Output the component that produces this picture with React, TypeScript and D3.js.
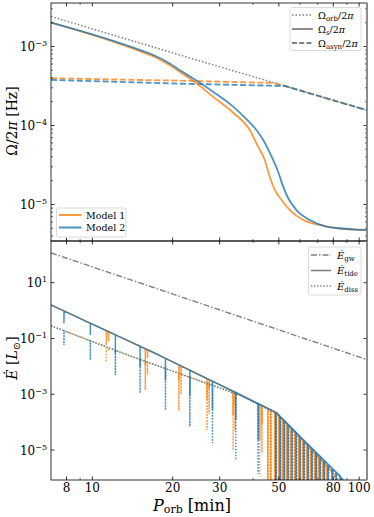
import React from "react";
import * as d3 from "d3";

// ---- data (P_orb in minutes) ----
const orbitFreq = [[7, 2.4e-3], [20, 8.3e-4], [50, 3.33e-4], [107, 1.56e-4]];

const spinModel1 = [
  [7, 2.0e-3], [13.8, 9.7e-4], [17.5, 7.1e-4], [19.5, 5.8e-4], [21.3, 4.75e-4], [23.8, 3.7e-4],
  [28.3, 2.32e-4], [33.7, 1.45e-4], [38.9, 8.77e-5], [41.8, 5.4e-5],
  [44.3, 3.66e-5], [46.2, 2.25e-5], [48.3, 1.53e-5], [51.2, 1.14e-5], [55, 8.5e-6],
  [61.7, 6.36e-6], [71.2, 5.5e-6], [82.2, 5.0e-6], [107, 4.75e-6],
];
const spinModel2 = [
  [7, 2.0e-3], [13.8, 1.0e-3], [17.5, 7.4e-4], [19.5, 6.1e-4], [21.3, 5.0e-4], [23.8, 3.95e-4],
  [28.3, 2.68e-4], [33.7, 1.73e-4], [37.8, 1.2e-4], [41.2, 8.77e-5], [43.7, 6.55e-5],
  [47.6, 3.66e-5], [49.7, 2.6e-5], [51.9, 1.68e-5], [54.2, 1.2e-5], [58.2, 8.5e-6],
  [65.3, 6.36e-6], [75.5, 5.24e-6], [95, 4.85e-6], [107, 4.75e-6],
];
const asynModel1 = [[7, 3.96e-4], [21.3, 3.69e-4], [48, 3.45e-4], [60, 2.78e-4], [80, 2.08e-4], [107, 1.56e-4]];
const asynModel2 = [[7, 3.77e-4], [21.3, 3.38e-4], [52.7, 3.16e-4], [60, 2.78e-4], [80, 2.08e-4], [107, 1.56e-4]];

const gwPower = [[7, 117], [107, 0.0174]];
const tideModel1 = [[7, 1.6], [17.1, 0.03], [35.7, 9.8e-4], [49, 2.17e-4], [61.6, 2.2e-5], [71.2, 5.0e-6], [80, 1.5e-6], [84, 6.5e-7]];
const tideModel2 = [[7, 1.6], [17.1, 0.03], [35.7, 9.8e-4], [49, 2.17e-4], [61.6, 2.4e-5], [71.2, 6.1e-6], [84.7, 1.17e-6], [88.3, 6.7e-7]];
const dissModel1 = [[7, 0.284], [13.8, 0.024], [35.7, 9.3e-4], [49, 2.1e-4], [61.6, 2.1e-5], [71.2, 4.8e-6], [80, 1.4e-6], [84, 6.3e-7]];
const dissModel2 = [[7, 0.284], [13.8, 0.024], [35.7, 9.3e-4], [49, 2.1e-4], [61.6, 2.3e-5], [71.2, 5.8e-6], [84.7, 1.1e-6], [88.3, 6.5e-7]];

// resonances: [P, tide dip, diss dip]
const dipsModel1 = [
  [11.28, 0.058, 0.0143], [11.5, 0.08, 0.035], [15.8, 0.011, 1.4e-3], [16.1, 0.02, 5e-3],
  [21.1, 3.2e-3, 2.5e-4], [21.5, 5e-3, 1e-3], [26.9, 6.3e-4, 5.2e-5], [27.4, 1.5e-3, 2e-4],
  [33.7, 1.8e-4, 1e-5], [34.3, 4e-4, 5e-5], [42.4, 2.3e-5, 1.1e-6], [43.2, 8e-5, 8e-6],
];
const dipsModel2 = [
  [7.83, 0.35, 0.058], [9.83, 0.133, 0.0169], [12.2, 0.03, 4.9e-3], [15.1, 9.5e-3, 1.1e-3],
  [18.8, 3.2e-3, 2.7e-4], [23.2, 8.7e-4, 6.8e-5], [28.2, 2.7e-4, 1.8e-5], [34.5, 1.2e-4, 4.4e-6],
  [41.8, 2.3e-5, 1.4e-6],
];
// dense resonances beyond ~45 min, reaching below the axis
const denseModel1 = [45.45, 46.6, 48.3, 50.0, 51.7, 53.6, 55.4, 57.4, 59.4, 61.5, 63.7, 65.9, 68.2, 70.6, 73.1, 75.7];
const denseModel2 = [48.7, 50.5, 52.3, 54.1, 56.0, 58.0, 60.0, 62.1, 64.3, 66.5, 68.9, 71.3, 73.8, 76.4, 79.1, 81.9, 84.8];

const periodTicks = [8, 10, 20, 30, 50, 80, 100];
const periodMinor = [9, 40, 60, 70, 90];
const freqTickExp = [-3, -4, -5];
const powerTickExp = [1, -1, -3, -5];

const ORANGE = "#ff7f0e";
const BLUE = "#1f77b4";
const GRAY = "#808080";
const FONT = "DejaVu Serif";

const x = d3.scaleLog().domain([7, 107]).range([51, 367]);
const yTop = d3.scaleLog().domain([3.45e-6, 3.55e-3]).range([241, 3]);
const yBot = d3.scaleLog().domain([8.4e-7, 313]).range([480, 241]);

const logInterp = (pts, p) => {
  for (let i = 0; i < pts.length - 1; i++) {
    const [p0, v0] = pts[i], [p1, v1] = pts[i + 1];
    if (p >= p0 && p <= p1) {
      const t = (Math.log(p) - Math.log(p0)) / (Math.log(p1) - Math.log(p0));
      return Math.exp(Math.log(v0) + t * (Math.log(v1) - Math.log(v0)));
    }
  }
  return pts[pts.length - 1][1];
};

// baseline + narrow dips, as one path
const withDips = (base, dips) => {
  const pts = base.map(d => [d[0], d[1]]);
  dips.forEach(([p, v]) => {
    const b = logInterp(base, p);
    pts.push([p * 0.9995, b], [p, v], [p * 1.0005, b]);
  });
  return pts.sort((a, b) => a[0] - b[0]);
};

const tidePath1 = withDips(tideModel1, [...dipsModel1.map(d => [d[0], d[1]]), ...denseModel1.map(p => [p, 5e-7])]);
const tidePath2 = withDips(tideModel2, [...dipsModel2.map(d => [d[0], d[1]]), ...denseModel2.map(p => [p, 5e-7])]);
const dissPath1 = withDips(dissModel1, [...dipsModel1.map(d => [d[0], d[2]]), ...denseModel1.map(p => [p * 1.006, 5e-7])]);
const dissPath2 = withDips(dissModel2, [...dipsModel2.map(d => [d[0], d[2]]), ...denseModel2.map(p => [p * 1.006, 5e-7])]);

const lineTop = d3.line().x(d => x(d[0])).y(d => yTop(d[1]));
const smoothTop = d3.line().x(d => x(d[0])).y(d => yTop(d[1])).curve(d3.curveMonotoneX);
const lineBot = d3.line().x(d => x(d[0])).y(d => yBot(d[1]));

const Sup = ({ x0, y0, e }) => (
  <text x={x0} y={y0} textAnchor="end" fontFamily={FONT} fontSize={12}>
    10<tspan dy={-5} fontSize={8}>{e < 0 ? "\u2212" + Math.abs(e) : e}</tspan>
  </text>
);

const Frame = ({ top, bottom, yScale, exps, minorY }) => (
  <g>
    {periodTicks.map(t => (
      <g key={"t" + t}>
        <line x1={x(t)} x2={x(t)} y1={bottom} y2={bottom - 3.5} stroke="#000" strokeWidth={0.8} />
        <line x1={x(t)} x2={x(t)} y1={top} y2={top + 3.5} stroke="#000" strokeWidth={0.8} />
      </g>
    ))}
    {periodMinor.map(t => (
      <g key={"m" + t}>
        <line x1={x(t)} x2={x(t)} y1={bottom} y2={bottom - 2} stroke="#000" strokeWidth={0.6} />
        <line x1={x(t)} x2={x(t)} y1={top} y2={top + 2} stroke="#000" strokeWidth={0.6} />
      </g>
    ))}
    {exps.map(e => (
      <g key={"y" + e}>
        <line x1={51} x2={54.5} y1={yScale(10 ** e)} y2={yScale(10 ** e)} stroke="#000" strokeWidth={0.8} />
        <line x1={367} x2={363.5} y1={yScale(10 ** e)} y2={yScale(10 ** e)} stroke="#000" strokeWidth={0.8} />
        <Sup x0={47} y0={yScale(10 ** e) + 4.5} e={e} />
      </g>
    ))}
    {minorY.map((v, i) => (
      <g key={"n" + i}>
        <line x1={51} x2={53} y1={yScale(v)} y2={yScale(v)} stroke="#000" strokeWidth={0.6} />
        <line x1={367} x2={365} y1={yScale(v)} y2={yScale(v)} stroke="#000" strokeWidth={0.6} />
      </g>
    ))}
    <rect x={51} y={top} width={316} height={bottom - top} fill="none" stroke="#000" strokeWidth={0.8} />
    <line x1={367} x2={367} y1={top} y2={bottom} stroke="#8a8a8a" strokeWidth={1.6} />
  </g>
);

const topMinor = [];
[-6, -5, -4, -3].forEach(e => {
  for (let m = 2; m <= 9; m++) {
    const v = m * 10 ** e;
    if (v > 3.45e-6 && v < 3.55e-3) topMinor.push(v);
  }
});

const Sub = ({ children }) => <tspan fontSize={7} dy={2}>{children}</tspan>;

export default function App() {
  return (
    <svg width={374} height={517} style={{ position: "absolute", left: 0, top: 0 }} fontFamily={FONT}>
      <defs>
        <clipPath id="c1"><rect x={51} y={3} width={316} height={238} /></clipPath>
        <clipPath id="c2"><rect x={51} y={241} width={316} height={239} /></clipPath>
      </defs>
      <rect width={374} height={517} fill="#fff" />

      {/* top panel */}
      <g clipPath="url(#c1)" fill="none">
        <path d={lineTop(orbitFreq)} stroke={GRAY} strokeWidth={1.5} strokeDasharray="1.5,2" />
        <path d={lineTop(asynModel1)} stroke={ORANGE} strokeOpacity={0.8} strokeWidth={1.8} strokeDasharray="6,2.6" />
        <path d={lineTop(asynModel2)} stroke={BLUE} strokeOpacity={0.8} strokeWidth={1.8} strokeDasharray="6,2.6" />
        <path d={smoothTop(spinModel1)} stroke={ORANGE} strokeOpacity={0.8} strokeWidth={1.8} />
        <path d={smoothTop(spinModel2)} stroke={BLUE} strokeOpacity={0.8} strokeWidth={1.8} />
      </g>
      <Frame top={3} bottom={241} yScale={yTop} exps={freqTickExp} minorY={topMinor} />

      {/* bottom panel */}
      <g clipPath="url(#c2)" fill="none">
        <path d={lineBot(gwPower)} stroke={GRAY} strokeWidth={1.4} strokeDasharray="6,2,1.5,2" />
        <path d={lineBot(dissPath1)} stroke={ORANGE} strokeOpacity={0.8} strokeWidth={1.5} strokeDasharray="1.4,1.6" />
        <path d={lineBot(tidePath1)} stroke={ORANGE} strokeOpacity={0.8} strokeWidth={1.5} />
        <path d={lineBot(dissPath2)} stroke={BLUE} strokeOpacity={0.8} strokeWidth={1.5} strokeDasharray="1.4,1.6" />
        <path d={lineBot(tidePath2)} stroke={BLUE} strokeOpacity={0.8} strokeWidth={1.5} />
      </g>
      <Frame top={241} bottom={480} yScale={yBot} exps={powerTickExp} minorY={[]} />

      {/* x tick labels */}
      {periodTicks.map(t => (
        <text key={t} x={x(t)} y={492} textAnchor="middle" fontSize={12}>{t}</text>
      ))}

      {/* axis labels */}
      <text x={192} y={510.5} textAnchor="middle" fontSize={16}>
        <tspan fontStyle="italic">P</tspan><tspan fontSize={11} dy={2.5}>orb</tspan><tspan dy={-2.5}> [min]</tspan>
      </text>
      <text transform="translate(17,121) rotate(-90)" textAnchor="middle" fontSize={14}>
        Ω/2<tspan fontStyle="italic">π</tspan> [Hz]
      </text>
      <text transform="translate(17,358) rotate(-90)" textAnchor="middle" fontSize={14}>
        <tspan fontStyle="italic">Ė</tspan> [<tspan fontStyle="italic">L</tspan><tspan fontSize={10} dy={3}>⊙</tspan><tspan dy={-3}>]</tspan>
      </text>

      {/* legend: frequencies */}
      <g fontSize={9.5}>
        <rect x={290} y={7.5} width={71} height={43} rx={2} fill="#fff" fillOpacity={0.8} stroke="#d0d0d0" strokeWidth={0.8} />
        <line x1={292} x2={313} y1={15} y2={15} stroke={GRAY} strokeWidth={1.5} strokeDasharray="1.5,2" />
        <line x1={292} x2={313} y1={29} y2={29} stroke={GRAY} strokeWidth={1.8} />
        <line x1={292} x2={313} y1={43} y2={43} stroke={GRAY} strokeWidth={1.8} strokeDasharray="5,2.2" />
        <text x={318} y={18.5}>Ω<Sub>orb</Sub><tspan dy={-2}>/2</tspan><tspan fontStyle="italic">π</tspan></text>
        <text x={318} y={32.5}>Ω<Sub>s</Sub><tspan dy={-2}>/2</tspan><tspan fontStyle="italic">π</tspan></text>
        <text x={318} y={46.5}>Ω<Sub>asyn</Sub><tspan dy={-2}>/2</tspan><tspan fontStyle="italic">π</tspan></text>
      </g>

      {/* legend: models */}
      <g fontSize={9.5}>
        <rect x={56.5} y={208} width={69.5} height={29} rx={2} fill="#fff" fillOpacity={0.8} stroke="#d0d0d0" strokeWidth={0.8} />
        <line x1={59} x2={81.5} y1={215} y2={215} stroke={ORANGE} strokeOpacity={0.8} strokeWidth={2} />
        <line x1={59} x2={81.5} y1={227.5} y2={227.5} stroke={BLUE} strokeOpacity={0.8} strokeWidth={2} />
        <text x={86} y={218.5}>Model 1</text>
        <text x={86} y={231}>Model 2</text>
      </g>

      {/* legend: powers */}
      <g fontSize={10}>
        <rect x={308.5} y={247} width={52.5} height={48} rx={2} fill="#fff" fillOpacity={0.8} stroke="#d0d0d0" strokeWidth={0.8} />
        <line x1={311} x2={331} y1={255} y2={255} stroke={GRAY} strokeWidth={1.4} strokeDasharray="6,2,1.5,2" />
        <line x1={311} x2={331} y1={270.5} y2={270.5} stroke={GRAY} strokeWidth={1.6} />
        <line x1={311} x2={331} y1={286} y2={286} stroke={GRAY} strokeWidth={1.3} strokeDasharray="1.3,1.8" />
        <text x={337} y={258.5}><tspan fontStyle="italic">Ė</tspan><Sub>gw</Sub></text>
        <text x={337} y={274}><tspan fontStyle="italic">Ė</tspan><Sub>tide</Sub></text>
        <text x={337} y={289.5}><tspan fontStyle="italic">Ė</tspan><Sub>diss</Sub></text>
      </g>
    </svg>
  );
}
